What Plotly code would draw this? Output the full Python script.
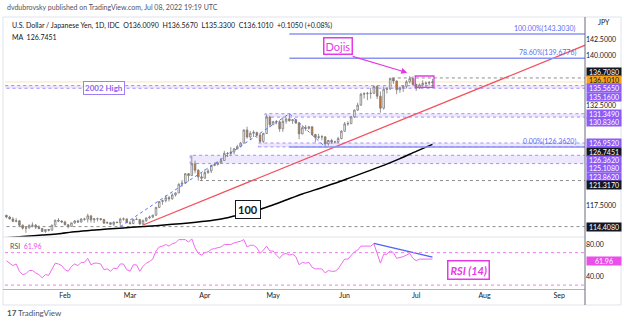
import plotly.graph_objects as go

W, H = 624, 323

# ---------------- data ----------------
month_days = {
    "2022-01": [6, 7, 10, 11, 12, 13, 14, 17, 18, 19, 20, 21, 24, 25, 26, 27, 28, 31],
    "2022-02": [1, 2, 3, 4, 7, 8, 9, 10, 11, 14, 15, 16, 17, 18, 21, 22, 23, 24, 25, 28],
    "2022-03": [1, 2, 3, 4, 7, 8, 9, 10, 11, 14, 15, 16, 17, 18, 21, 22, 23, 24, 25, 28, 29, 30, 31],
    "2022-04": [1, 4, 5, 6, 7, 8, 11, 12, 13, 14, 15, 18, 19, 20, 21, 22, 25, 26, 27, 28, 29],
    "2022-05": [2, 3, 4, 5, 6, 9, 10, 11, 12, 13, 16, 17, 18, 19, 20, 23, 24, 25, 26, 27, 30, 31],
    "2022-06": [1, 2, 3, 6, 7, 8, 9, 10, 13, 14, 15, 16, 17, 20, 21, 22, 23, 24, 27, 28, 29, 30],
    "2022-07": [1, 4, 5, 6, 7, 8],
}
dates = [f"{m}-{d:02d}" for m, ds in month_days.items() for d in ds]

opens = [
    116.11, 115.85, 115.55, 115.20, 115.28, 114.62, 114.18, 114.20, 114.60, 114.62, 114.32, 114.13, 113.68, 113.98, 113.87, 114.63, 115.35, 115.24,
    115.11, 114.69, 114.45, 114.97, 115.26, 115.10, 115.55, 115.52, 116.03, 115.42, 115.58, 115.59, 115.48, 114.93, 115.00, 114.76, 115.07, 115.01, 115.53, 115.56,
    114.99, 114.88, 115.49, 115.48, 114.82, 115.30, 115.70, 115.85, 116.12, 117.29, 118.17, 118.31, 118.75, 118.58, 119.16, 119.46, 120.78, 120.94, 122.34, 122.06, 123.83, 122.86, 121.87,
    121.68, 122.52, 122.76, 123.58, 123.75, 123.96, 124.33, 125.40, 125.37, 125.60, 126.06, 126.40, 126.93, 128.90, 127.85, 128.41, 128.54, 128.15, 127.19, 128.39, 130.84,
    129.70, 130.15, 130.13, 129.08, 130.20, 130.57, 130.27, 130.45, 129.94, 128.33, 129.24, 129.15, 129.38, 128.23, 127.78, 127.87, 127.88, 126.82, 127.33, 127.11, 127.11, 127.62,
    128.72, 129.82, 129.85, 130.87, 131.89, 132.64, 134.27, 134.35, 134.39, 134.42, 135.42, 133.97, 132.18, 135.02, 135.05, 136.65, 136.25, 134.94, 135.22, 135.46, 136.13, 136.60,
    135.73, 135.21, 135.68, 135.89, 135.93, 136.009,
]
highs = [
    116.20, 116.04, 115.85, 115.68, 115.38, 114.72, 114.37, 114.75, 115.06, 114.80, 114.60, 114.20, 114.00, 114.06, 114.69, 115.48, 115.69, 115.38,
    115.30, 114.75, 115.00, 115.40, 115.45, 115.69, 115.73, 116.34, 116.05, 115.68, 115.75, 115.69, 115.58, 115.18, 115.05, 115.20, 115.16, 115.74, 115.78, 115.63,
    115.26, 115.55, 115.80, 115.55, 115.47, 115.80, 116.06, 116.20, 117.36, 118.18, 118.45, 119.12, 119.01, 119.41, 119.55, 120.87, 121.41, 122.43, 122.44, 125.10, 124.32, 123.04, 122.44,
    122.98, 123.06, 123.68, 124.01, 124.05, 124.69, 125.77, 125.60, 126.32, 126.24, 126.68, 127.12, 128.98, 129.40, 128.73, 128.85, 128.63, 128.46, 128.47, 131.25, 131.08,
    130.28, 130.40, 130.36, 130.80, 130.80, 131.35, 130.54, 130.51, 130.08, 129.62, 129.65, 129.48, 129.46, 128.32, 128.33, 128.13, 127.92, 127.41, 127.58, 127.29, 127.88, 128.89,
    130.10, 130.22, 130.98, 131.98, 132.99, 134.48, 134.56, 134.61, 135.19, 135.45, 135.59, 134.68, 135.43, 135.34, 136.71, 136.71, 136.32, 135.38, 135.57, 136.38, 137.00, 136.95,
    135.85, 135.87, 136.35, 136.16, 136.27, 136.567,
]
lows = [
    115.65, 115.52, 115.06, 115.05, 114.45, 113.97, 113.48, 114.13, 114.31, 114.05, 114.00, 113.62, 113.47, 113.69, 113.79, 114.57, 115.07, 114.94,
    114.60, 114.15, 114.40, 114.81, 114.95, 115.03, 115.30, 115.05, 115.02, 114.97, 115.20, 115.30, 114.85, 114.88, 114.69, 114.53, 114.95, 114.41, 115.31, 114.94,
    114.71, 114.77, 115.40, 114.66, 114.65, 115.12, 115.56, 115.68, 116.05, 117.20, 117.69, 118.05, 118.19, 118.45, 118.92, 119.45, 120.40, 120.78, 121.18, 122.04, 122.42, 121.30, 121.28,
    121.61, 122.32, 122.44, 123.45, 123.55, 123.93, 124.30, 124.85, 125.06, 125.20, 126.00, 126.30, 126.90, 127.60, 127.41, 127.85, 127.70, 126.95, 126.94, 128.30, 129.31,
    129.70, 129.73, 128.63, 128.61, 129.83, 130.17, 129.81, 129.83, 127.52, 128.25, 128.76, 128.96, 128.07, 127.03, 127.49, 127.35, 126.36, 126.55, 126.84, 126.85, 126.94, 127.51,
    128.62, 129.53, 129.83, 130.70, 131.74, 132.54, 133.62, 133.38, 133.60, 134.27, 133.54, 131.49, 131.96, 134.38, 134.93, 135.81, 134.27, 134.49, 134.61, 135.12, 135.88, 135.56,
    134.75, 135.05, 135.31, 135.35, 135.57, 135.330,
]
closes = [
    115.85, 115.55, 115.20, 115.28, 114.62, 114.18, 114.20, 114.60, 114.62, 114.32, 114.13, 113.68, 113.98, 113.87, 114.63, 115.35, 115.24, 115.11,
    114.69, 114.45, 114.97, 115.26, 115.10, 115.55, 115.52, 116.03, 115.42, 115.58, 115.59, 115.48, 114.93, 115.00, 114.76, 115.07, 115.01, 115.53, 115.56, 114.99,
    114.88, 115.49, 115.48, 114.82, 115.30, 115.70, 115.85, 116.12, 117.29, 118.17, 118.31, 118.75, 118.58, 119.16, 119.46, 120.78, 120.94, 122.34, 122.06, 123.83, 122.86, 121.87, 121.68,
    122.52, 122.76, 123.58, 123.75, 123.96, 124.33, 125.40, 125.37, 125.60, 126.06, 126.40, 126.93, 128.90, 127.85, 128.41, 128.54, 128.15, 127.19, 128.39, 130.84, 129.70,
    130.15, 130.13, 129.08, 130.20, 130.57, 130.27, 130.45, 129.94, 128.33, 129.24, 129.15, 129.38, 128.23, 127.78, 127.87, 127.88, 126.82, 127.33, 127.11, 127.11, 127.62, 128.72,
    129.82, 129.85, 130.87, 131.89, 132.64, 134.27, 134.35, 134.39, 134.42, 135.42, 133.97, 132.18, 135.02, 135.05, 136.65, 136.25, 134.94, 135.22, 135.46, 136.13, 136.60, 135.73,
    135.21, 135.68, 135.89, 135.93, 136.00, 136.101,
]
rsi = [
    60, 57, 54, 56, 47, 43, 44, 48, 48, 45, 43, 39, 43, 42, 50, 57, 56, 54,
    49, 47, 53, 56, 54, 58, 58, 63, 55, 57, 57, 56, 49, 50, 47, 51, 50, 56, 56, 49,
    47, 55, 55, 47, 53, 57, 59, 62, 72, 77, 78, 80, 78, 81, 82, 86, 86, 86, 83, 87, 76, 69, 67,
    70, 71, 74, 75, 76, 77, 80, 80, 80, 82, 83, 84, 86, 77, 79, 79, 76, 69, 73, 78, 72,
    72, 67, 63, 68, 69, 67, 68, 65, 55, 58, 57, 58, 52, 50, 50, 50, 45, 48, 47, 47, 50, 56,
    62, 62, 67, 71, 73, 78, 78, 78, 78, 81, 68, 57, 68, 68, 72, 70, 63, 64, 65, 67, 69, 63,
    60, 62, 62, 62, 62, 61.96,
]

ma_dates = ["2022-01-06", "2022-01-14", "2022-01-21", "2022-01-28", "2022-02-04", "2022-02-11", "2022-02-18",
            "2022-02-25", "2022-03-04", "2022-03-11", "2022-03-18", "2022-03-25", "2022-04-01", "2022-04-08",
            "2022-04-14", "2022-04-22", "2022-04-29", "2022-05-06", "2022-05-13", "2022-05-20", "2022-05-27",
            "2022-06-03", "2022-06-10", "2022-06-17", "2022-06-24", "2022-07-01", "2022-07-08"]
ma_values = [112.75, 112.95, 113.15, 113.35, 113.65, 113.85, 114.05, 114.2, 114.4, 114.55, 114.75, 114.95,
             115.2, 115.55, 116.0, 116.7, 117.5, 118.4, 119.3, 120.1, 120.9, 121.8, 122.7, 123.6, 124.6,
             125.7, 126.7451]

trend_dates = ["2022-03-07 12:00", "2022-09-30 12:00"]
trend_prices = [114.65, 145.0]

wave_dates = ["2022-02-24 12:00", "2022-05-09 12:00", "2022-05-24 12:00"]
wave_prices = [114.408, 131.349, 126.362]

fib_levels = [143.303, 139.6776, 126.362]
fib_texts = ["100.00%(143.3030)", "78.60%(139.6776)", "0.00%(126.3620)"]

zones = [  # (start date, low, high)
    ("2022-01-01", 135.160, 135.565),
    ("2022-04-28", 130.836, 131.349),
    ("2022-04-26", 126.362, 126.952),
    ("2022-03-28", 123.862, 125.108),
]
dashed_levels = [("2022-06-22", 136.708), ("2022-03-31", 121.317), ("2022-01-01", 114.408)]

rsi_div_dates = ["2022-06-14 12:00", "2022-07-08 12:00"]
rsi_div_values = [81.3, 64.5]

month_ticks = ["2022-02-01", "2022-03-01", "2022-04-01", "2022-05-02", "2022-06-01", "2022-07-01", "2022-08-01", "2022-09-01"]
month_names = ["Feb", "Mar", "Apr", "May", "Jun", "Jul", "Aug", "Sep"]

price_ticks = [117.5, 132.5, 140, 142.5]

axis_labels = [  # value, bg, text colour, pixel shift
    (136.708, "#131722", "white", 6),
    (136.101, "#f7a21b", "#131722", 2),
    (135.565, "#8b5cf6", "white", -2.5),
    (135.160, "#8b5cf6", "white", -8.5),
    (131.349, "#8b5cf6", "white", 0),
    (130.836, "#8b5cf6", "white", -5),
    (126.952, "#8b5cf6", "white", -0.5),
    (126.7451, "#131722", "white", -8),
    (126.362, "#8b5cf6", "white", -13.5),
    (125.108, "#8b5cf6", "white", -13),
    (123.862, "#8b5cf6", "white", -13),
    (121.317, "#131722", "white", -4.5),
    (114.408, "#131722", "white", -0.5),
]

X_RANGE = ["2022-01-06 01:40", "2022-09-13 09:40"]

# ---------------- figure ----------------
def px(x):
    return x / W

def py(y):
    return 1 - y / H

x_bars = [d + " 12:00" for d in dates]
ma_x = [d + " 12:00" for d in ma_dates]

fig = go.Figure()
fig.add_trace(go.Candlestick(
    x=x_bars, open=opens, high=highs, low=lows, close=closes,
    increasing=dict(line=dict(color="#7a7a7a", width=0.8), fillcolor="#ffffff"),
    decreasing=dict(line=dict(color="#7a7a7a", width=0.8), fillcolor="#d4711f"),
    whiskerwidth=0, hoverinfo="skip", showlegend=False, xaxis="x", yaxis="y"))
fig.add_trace(go.Scatter(x=ma_x, y=ma_values, mode="lines", line=dict(color="#000000", width=1.5, shape="spline", smoothing=0.6),
                         showlegend=False, hoverinfo="skip", xaxis="x", yaxis="y"))
fig.add_trace(go.Scatter(x=trend_dates, y=trend_prices, mode="lines", line=dict(color="#f2515d", width=1.3),
                         showlegend=False, hoverinfo="skip", xaxis="x", yaxis="y"))
fig.add_trace(go.Scatter(x=wave_dates, y=wave_prices, mode="lines", line=dict(color="#5b6ef5", width=1, dash="dot"),
                         showlegend=False, hoverinfo="skip", xaxis="x", yaxis="y"))
for lvl in fib_levels:
    fig.add_trace(go.Scatter(x=["2022-05-09 12:00", "2022-09-30"], y=[lvl, lvl], mode="lines",
                             line=dict(color="#8a94f5", width=1.5), showlegend=False, hoverinfo="skip",
                             xaxis="x", yaxis="y"))
fig.add_trace(go.Scatter(x=x_bars, y=rsi, mode="lines", line=dict(color="#f06af0", width=1),
                         showlegend=False, hoverinfo="skip", xaxis="x", yaxis="y2"))
fig.add_trace(go.Scatter(x=rsi_div_dates, y=rsi_div_values, mode="lines", line=dict(color="#4f63f0", width=1.3),
                         showlegend=False, hoverinfo="skip", xaxis="x", yaxis="y2"))

shapes = []
for start, lo, hi in zones:
    shapes.append(dict(type="rect", xref="x", yref="y", x0=start, x1="2022-09-30", y0=lo, y1=hi,
                       fillcolor="rgba(150,120,245,0.17)", line=dict(color="#a98cf7", width=1, dash="dot"),
                       layer="below"))
for start, lvl in dashed_levels:
    shapes.append(dict(type="line", xref="x", yref="y", x0=start, x1="2022-09-30", y0=lvl, y1=lvl,
                       line=dict(color="#8c8c8c", width=1, dash="3px,3px"), layer="below"))
shapes.append(dict(type="line", xref="x", yref="y", x0="2022-01-01", x1="2022-09-30", y0=136.101, y1=136.101,
                   line=dict(color="rgba(247,162,27,0.30)", width=1), layer="below"))
shapes.append(dict(type="rect", xref="x", yref="y", x0="2022-07-01 05:00", x1="2022-07-08 23:00",
                   y0=135.3, y1=137.0, line=dict(color="#e639e6", width=1.3), fillcolor="rgba(0,0,0,0)"))
for lv in (70, 30):
    shapes.append(dict(type="line", xref="paper", yref="y2", x0=px(5), x1=px(585), y0=lv, y1=lv,
                       line=dict(color="#f07cf0", width=1, dash="dot")))
shapes.append(dict(type="rect", xref="paper", yref="paper", x0=px(3), x1=px(621), y0=py(305), y1=py(17),
                   line=dict(color="#e0e3eb", width=1)))
shapes.append(dict(type="line", xref="paper", yref="paper", x0=px(3), x1=px(585), y0=py(237), y1=py(237),
                   line=dict(color="#e0e3eb", width=1)))
shapes.append(dict(type="line", xref="paper", yref="paper", x0=px(3), x1=px(585), y0=py(289.5), y1=py(289.5),
                   line=dict(color="#b2b5be", width=1)))
shapes.append(dict(type="line", xref="paper", yref="paper", x0=px(585), x1=px(585), y0=py(305), y1=py(17),
                   line=dict(color="#6a6d78", width=1)))

ann = []
F = "Lato, 'Open Sans', sans-serif"
ann.append(dict(xref="paper", yref="paper", x=px(5), y=py(8), xanchor="left", yanchor="middle", showarrow=False,
                text="dvdubrovsky published on TradingView.com, Jul 08, 2022 19:19 UTC",
                font=dict(size=7, color="#50535e", family=F)))
ann.append(dict(xref="paper", yref="paper", x=px(10), y=py(25), xanchor="left", yanchor="middle", showarrow=False,
                text="U.S. Dollar / Japanese Yen, 1D, IDC  O136.0090  H136.5670  L135.3300  C136.1010  +0.1050 (+0.08%)",
                font=dict(size=7, color="#131722", family=F)))
ann.append(dict(xref="paper", yref="paper", x=px(10), y=py(37), xanchor="left", yanchor="middle", showarrow=False,
                text="MA  126.7451", font=dict(size=7, color="#131722", family=F)))
ann.append(dict(xref="paper", yref="paper", x=px(8), y=py(246), xanchor="left", yanchor="middle", showarrow=False,
                text="RSI  <span style='color:#e94fe9'>61.96</span>", font=dict(size=7, color="#50535e", family=F)))
ann.append(dict(xref="paper", yref="paper", x=px(596), y=py(22), xanchor="left", yanchor="middle", showarrow=False,
                text="JPY", font=dict(size=7, color="#131722", family=F)))
ann.append(dict(xref="paper", yref="paper", x=px(5), y=py(313), xanchor="left", yanchor="middle", showarrow=False,
                text="<b>17</b> TradingView", font=dict(size=8, color="#50535e", family=F)))

for val, bg, fc, shift in axis_labels:
    ann.append(dict(xref="paper", yref="y", x=px(586), y=val, yshift=shift, xanchor="left", yanchor="middle",
                    showarrow=False, text=f"{val:.4f}", bgcolor=bg, font=dict(size=7, color=fc, family=F),
                    width=34, height=8, borderpad=0, align="center"))
ann.append(dict(xref="paper", yref="y2", x=px(586), y=61.96, yshift=-2, xanchor="left", yanchor="middle",
                showarrow=False, text="61.96", bgcolor="#e94fe9", font=dict(size=7, color="white", family=F),
                width=34, height=8, borderpad=0, align="center"))

for lvl, t in zip(fib_levels, fib_texts):
    ann.append(dict(xref="paper", yref="y", x=px(578), y=lvl, xanchor="right", yanchor="bottom", showarrow=False,
                    text=t, font=dict(size=7, color="#5d6df2", family=F), yshift=-1))

ann.append(dict(xref="x", yref="y", x="2022-02-17 12:00", y=135.16, showarrow=False, text="<b>2002 High</b>",
                font=dict(size=8, color="#8d63f2", family=F), bgcolor="white", bordercolor="#9f7ff5",
                borderwidth=1, borderpad=1))
ann.append(dict(xref="x", yref="y", x="2022-05-30 12:00", y=141.5, showarrow=False, text="Dojis",
                font=dict(size=11, color="#e639e6", family=F), bgcolor="white", bordercolor="#e639e6",
                borderwidth=1.5, borderpad=1))
ann.append(dict(xref="x", yref="y", x="2022-06-28 18:00", y=137.5, ax="2022-06-03 12:00", ay=140.0,
                axref="x", ayref="y", showarrow=True, arrowhead=2, arrowsize=1, arrowwidth=1.2,
                arrowcolor="#e639e6", text=""))
ann.append(dict(xref="x", yref="y", x="2022-04-20 18:00", y=117.05, showarrow=False, text="<b>100</b>",
                font=dict(size=11, color="#131722", family=F), bgcolor="white", bordercolor="#131722",
                borderwidth=1, borderpad=2))
ann.append(dict(xref="x", yref="y2", x="2022-07-25 12:00", y=49, showarrow=False, text="<b><i>RSI (14)</i></b>",
                font=dict(size=11, color="#e639e6", family=F), bgcolor="white", bordercolor="#e639e6",
                borderwidth=1.5, borderpad=2))

fig.update_layout(
    width=W, height=H, autosize=False, margin=dict(l=0, r=0, t=0, b=0),
    paper_bgcolor="white", plot_bgcolor="white", showlegend=False,
    font=dict(family=F, size=7, color="#131722"),
    xaxis=dict(domain=[px(5), px(585)], anchor="y2", range=X_RANGE, type="date",
               rangebreaks=[dict(bounds=["sat", "mon"])], rangeslider=dict(visible=False),
               showgrid=False, zeroline=False, showline=False, ticks="",
               tickvals=[d + " 12:00" for d in month_ticks], ticktext=month_names,
               tickfont=dict(size=7, color="#131722", family=F)),
    yaxis=dict(domain=[py(237), py(17.5)], range=[112.85, 145.775], anchor="x", side="right",
               showgrid=False, zeroline=False, showline=False, ticks="",
               tickvals=price_ticks, ticktext=[f"{v:.4f}" for v in price_ticks],
               tickfont=dict(size=7, color="#131722", family=F)),
    yaxis2=dict(domain=[py(289.5), py(237.5)], range=[24.6, 88.6], anchor="x", side="right",
                showgrid=False, zeroline=False, showline=False, ticks="",
                tickvals=[40, 80], ticktext=["40.00", "80.00"],
                tickfont=dict(size=7, color="#131722", family=F)),
    shapes=shapes, annotations=ann,
)

fig.write_html("out.html")
